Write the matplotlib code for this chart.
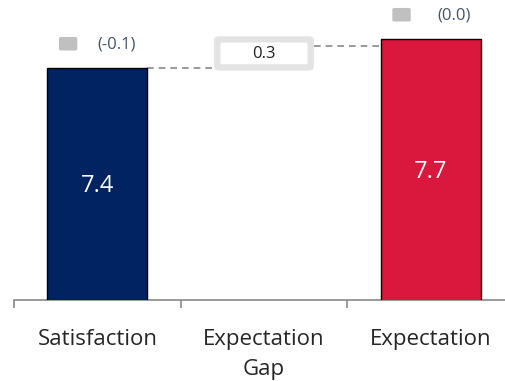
import numpy as np
import matplotlib
matplotlib.use('Agg')
import matplotlib.pyplot as plt
from matplotlib.patches import FancyBboxPatch

plt.rcParams['font.family'] = ['Open Sans', 'DejaVu Sans']

# data
categories = ['Satisfaction', 'Expectation\nGap', 'Expectation']
satisfaction = 7.4
expectation = 7.7
gap = 0.3
changes = ['(-0.1)', '(0.0)']
gap_label = '0.3'

navy = '#012361'
red = '#da173c'
grey = '#898989'

fig = plt.figure(figsize=(5.06, 3.81), dpi=100)
ax = fig.add_axes([14 / 506, 81 / 381, 500 / 506, 300 / 381])

x = np.arange(len(categories))
w = 0.6
ax.bar([x[0], x[2]], [satisfaction, expectation], width=w, color=[navy, red],
       edgecolor='black', linewidth=1.0, zorder=3)

ax.text(x[0], 6.18, f'{satisfaction:.1f}', color='white', fontsize=17,
        ha='center', va='center', zorder=4)
ax.text(x[2], 6.32, f'{expectation:.1f}', color='white', fontsize=17,
        ha='center', va='center', zorder=4)

# gap box
mid = (satisfaction + expectation) / 2
bh = 0.33
box = FancyBboxPatch((x[1] - w / 2 + 0.02, mid - bh / 2 + 0.02), w - 0.04, bh - 0.04,
                     boxstyle='round,pad=0.0,rounding_size=0.02',
                     facecolor='white', edgecolor='#e3e3e3', linewidth=4.5,
                     mutation_aspect=0.3, zorder=3)
ax.add_patch(box)
ax.text(x[1], mid - 0.005, gap_label, fontsize=12, ha='center', va='center',
        color='#222222', zorder=4)

# connectors
ax.plot([x[0] + w / 2, x[1] - w / 2], [satisfaction, satisfaction],
        ls=(0, (4, 3)), color=grey, lw=1.2, zorder=2)
ax.plot([x[1] + w / 2, x[2] - w / 2], [expectation - 0.07, expectation - 0.07],
        ls=(0, (4, 3)), color=grey, lw=1.2, zorder=2)

# change markers
for xi, top, lab in [(x[0], satisfaction, changes[0]), (x[2], expectation, changes[1])]:
    sq = FancyBboxPatch((xi - 0.23, top + 0.18), 0.11, 0.14,
                        boxstyle='round,pad=0.0,rounding_size=0.015',
                        facecolor='#c0c0c0', edgecolor='none',
                        mutation_aspect=0.8, zorder=3)
    ax.add_patch(sq)
    ax.text(xi + (0.0 if xi == 0 else 0.04), top + 0.245, lab, fontsize=12,
            color='#44546a', ha='left', va='center')

ax.set_xlim(-0.5, 2.5)
ax.set_ylim(5, 5 + 300 / 96.7)

ax.set_xticks([-0.5, 0.5, 1.5, 2.5])
ax.set_xticklabels([])
ax.tick_params(axis='x', which='major', length=6, color=grey, width=1.2)
ax.set_xticks(x, minor=True)
ax.set_xticklabels(categories, minor=True, fontsize=16, color='#262626',
                   linespacing=1.55)
ax.tick_params(axis='x', which='minor', length=0, pad=21)

ax.set_yticks([])
for s in ['top', 'right', 'left']:
    ax.spines[s].set_visible(False)
ax.spines['bottom'].set_color(grey)
ax.spines['bottom'].set_linewidth(1.2)

fig.savefig('out.png', dpi=100)
